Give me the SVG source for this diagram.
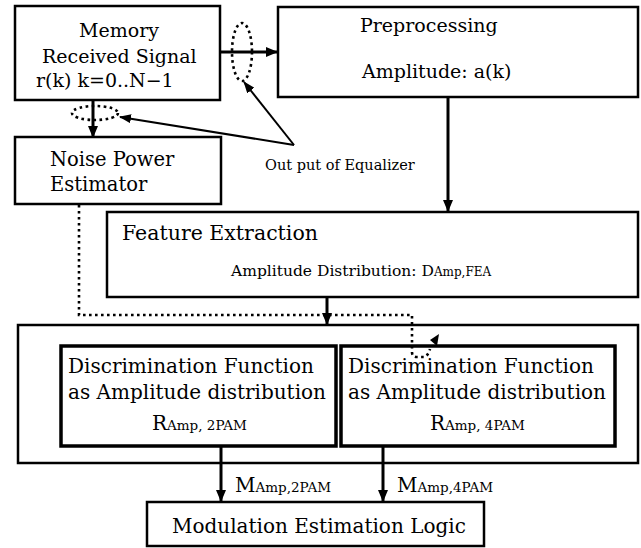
<svg xmlns="http://www.w3.org/2000/svg" width="641" height="548" viewBox="0 0 641 548">
<defs>
<style>
.box{fill:#fff;stroke:#000;stroke-width:2.5}
.thick{fill:#fff;stroke:#000;stroke-width:3.5}
.t{font-family:"DejaVu Serif","Liberation Serif",serif;fill:#000}
.ln{fill:none;stroke:#000;stroke-width:3}
.thin{fill:none;stroke:#000;stroke-width:2}
.dot{fill:none;stroke:#000;stroke-width:2.6;stroke-dasharray:2.6,3.4}
.sm{font-size:13.5px}
</style>
<marker id="ah" markerUnits="userSpaceOnUse" markerWidth="12" markerHeight="10" refX="11" refY="5" orient="auto">
<path d="M0,0 L12,5 L0,10 Z" fill="#000"/>
</marker>
<marker id="ah2" markerUnits="userSpaceOnUse" markerWidth="12" markerHeight="9" refX="11" refY="4.5" orient="auto">
<path d="M0,0 L12,4.5 L0,9 Z" fill="#000"/>
</marker>
</defs>
<rect width="641" height="548" fill="#fff"/>

<g id="memory">
<rect class="box" x="15" y="6" width="205" height="94"/>
<text class="t" x="119" y="37" font-size="19" text-anchor="middle">Memory</text>
<text class="t" x="42" y="63" font-size="19">Received Signal</text>
<text class="t" x="36" y="87" font-size="19">r(k) k=0..N−1</text>
</g>

<g id="preprocessing">
<rect class="box" x="278" y="7" width="360" height="90"/>
<text class="t" x="360" y="32" font-size="19">Preprocessing</text>
<text class="t" x="362" y="78" font-size="19">Amplitude: a(k)</text>
</g>

<g id="noise">
<rect class="box" x="15" y="137" width="206" height="67"/>
<text class="t" x="50" y="166" font-size="19.5">Noise Power</text>
<text class="t" x="50" y="191" font-size="19.5">Estimator</text>
</g>

<g id="equalizer-label">
<text class="t" x="265" y="170" font-size="14.5">Out put of Equalizer</text>
</g>

<g id="feature">
<rect class="box" x="107" y="212" width="531" height="85"/>
<text class="t" x="122" y="240" font-size="20.5">Feature Extraction</text>
<text class="t" x="231" y="276" font-size="15.5">Amplitude Distribution: D<tspan font-size="12">Amp,FEA</tspan></text>
</g>

<g id="discriminator-group">
<rect class="box" x="18" y="325" width="620" height="138"/>
</g>

<g id="disc2pam">
<rect class="thick" x="61" y="346" width="275" height="100"/>
<text class="t" x="68" y="373" font-size="20">Discrimination Function</text>
<text class="t" x="68" y="399" font-size="20">as Amplitude distribution</text>
<text class="t" x="152" y="430" font-size="20">R<tspan class="sm">Amp, 2PAM</tspan></text>
</g>

<g id="disc4pam">
<rect class="thick" x="341" y="346" width="274" height="100"/>
<text class="t" x="348" y="373" font-size="20">Discrimination Function</text>
<text class="t" x="348" y="399" font-size="20">as Amplitude distribution</text>
<text class="t" x="430" y="430" font-size="20">R<tspan class="sm">Amp, 4PAM</tspan></text>
</g>

<g id="logic">
<rect class="box" x="147" y="502" width="337" height="44"/>
<text class="t" x="172" y="533" font-size="20">Modulation Estimation Logic</text>
</g>

<g id="connectors">
<line class="ln" x1="220" y1="52" x2="277" y2="52" marker-end="url(#ah)"/>
<line class="ln" x1="93" y1="100" x2="93" y2="137" marker-end="url(#ah)"/>
<line class="ln" x1="448" y1="97" x2="448" y2="211" marker-end="url(#ah)"/>
<line class="ln" x1="327" y1="297" x2="327" y2="324" marker-end="url(#ah)"/>
<line class="ln" x1="221" y1="446" x2="221" y2="501" marker-end="url(#ah)"/>
<line class="ln" x1="383" y1="446" x2="383" y2="501" marker-end="url(#ah)"/>
<ellipse class="dot" cx="242" cy="52" rx="10" ry="29"/>
<ellipse class="dot" cx="95" cy="113" rx="23" ry="7"/>
<line class="thin" x1="294" y1="145" x2="244" y2="82" marker-end="url(#ah2)"/>
<line class="thin" x1="294" y1="145" x2="120" y2="117" marker-end="url(#ah2)"/>
<path class="dot" d="M79,205 V315 H412 V352 Q412,357 417,357 H424 Q428,356 430,349"/>
<path d="M430,340 L439,334 L437,346 Z" fill="#000"/>
<text class="t" x="235" y="492" font-size="20">M<tspan class="sm">Amp,2PAM</tspan></text>
<text class="t" x="397" y="492" font-size="20">M<tspan class="sm">Amp,4PAM</tspan></text>
</g>
</svg>
